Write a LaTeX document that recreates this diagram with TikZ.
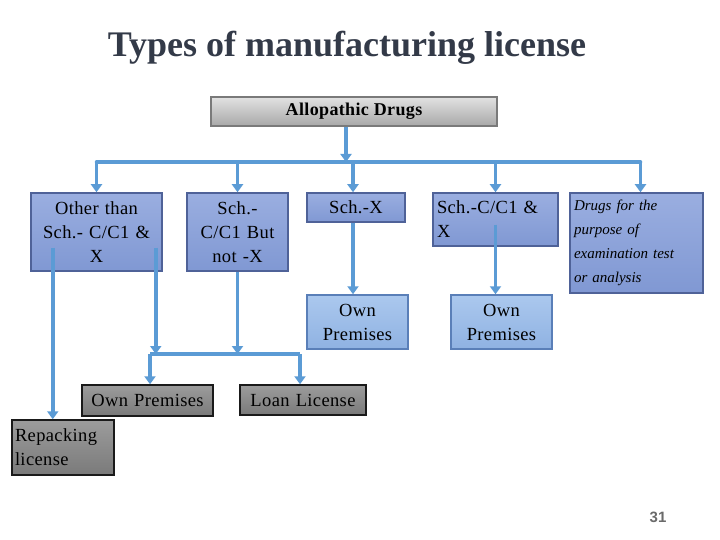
\documentclass[tikz,border=0pt]{standalone}
\usepackage{fontspec}
\setmainfont{Liberation Serif}
\setsansfont{Liberation Sans}
\newfontfamily\boxfont{Liberation Serif}[LetterSpace=2]
\usetikzlibrary{arrows.meta,calc}
\definecolor{arrowblue}{HTML}{5B9BD5}
\definecolor{titlecol}{HTML}{333A48}
\definecolor{bluetop}{HTML}{9AAEE0}
\definecolor{bluebot}{HTML}{8098D3}
\definecolor{blueedge}{HTML}{4F6298}
\definecolor{lighttop}{HTML}{ABC8EE}
\definecolor{lightbot}{HTML}{8FB2E2}
\definecolor{lightedge}{HTML}{5A7FB8}
\definecolor{graytop}{HTML}{9C9C9C}
\definecolor{graybot}{HTML}{7A7A7A}
\definecolor{grayedge}{HTML}{1A1A1A}
\definecolor{toptop}{HTML}{E2E2E2}
\definecolor{topbot}{HTML}{A8A8A8}
\definecolor{topedge}{HTML}{7A7A7A}
\definecolor{pagecol}{HTML}{6A6A6A}
\tikzset{
  boxbase/.style={rectangle, line width=1.5pt, inner sep=2pt, font=\boxfont\fontsize{18.5}{24}\selectfont},
  bluebox/.style={boxbase, top color=bluetop, bottom color=bluebot, draw=blueedge},
  lightbox/.style={boxbase, top color=lighttop, bottom color=lightbot, draw=lightedge},
  graybox/.style={boxbase, top color=graytop, bottom color=graybot, draw=grayedge},
  topbox/.style={boxbase, top color=toptop, bottom color=topbot, draw=topedge},
  conn/.style={draw=arrowblue, line width=3.5pt},
  arr/.style={conn, -{Triangle[width=11pt,length=8pt]}},
}
\begin{document}
\begin{tikzpicture}[x=1pt,y=-1pt]
\useasboundingbox[fill=white] (0,0) rectangle (720,540);

\node[anchor=base, text=titlecol, font=\fontsize{36}{40}\bfseries\selectfont] (title) at (347,57) {Types of manufacturing license};

\node[topbox, minimum width=286pt, minimum height=29pt, font=\boxfont\fontsize{18}{20}\bfseries\selectfont] (alo) at (354,111.5) {Allopathic Drugs};

\node[bluebox, minimum width=131pt, minimum height=78pt, text width=125pt, align=center] (b1) at (96.5,232) {Other than\\Sch.- C/C1 \&\\X};
\node[bluebox, minimum width=101pt, minimum height=78pt, text width=95pt, align=center] (b2) at (237.5,232) {Sch.-\\C/C1 But\\not -X};
\node[bluebox, minimum width=98pt, minimum height=29pt, text width=92pt, align=center] (b3) at (356,207.5) {Sch.-X};
\node[bluebox, minimum width=125pt, minimum height=53pt, text width=117pt, align=left] (b4) at (495.5,219.5) {Sch.-C/C1 \&\\X};
\node[bluebox, minimum width=133pt, minimum height=100pt, text width=125pt, align=left, font=\itshape\fontsize{15}{24}\selectfont] (b5) at (636.5,243) {Drugs for the\\purpose of\\examination test\\or analysis};

\node[lightbox, minimum width=101pt, minimum height=54pt, text width=95pt, align=center] (op1) at (357.5,322) {Own\\Premises};
\node[lightbox, minimum width=101pt, minimum height=54pt, text width=95pt, align=center] (op2) at (501.5,322) {Own\\Premises};

\node[graybox, minimum width=131pt, minimum height=31pt, text width=125pt, align=center] (op3) at (147.5,400.5) {Own Premises};
\node[graybox, minimum width=126pt, minimum height=30pt, text width=120pt, align=center] (loan) at (303,400) {Loan License};
\node[graybox, minimum width=102pt, minimum height=55pt, text width=96pt, align=left] (rep) at (63,447.5) {Repacking\\license};

\node[text=pagecol, font=\sffamily\bfseries\fontsize{15}{17}\selectfont] (pg) at (658,517) {31};

% top distribution
\coordinate (hub) at (346,162);
\coordinate (h5) at ([xshift=4pt]hub -| b5.north);
\coordinate (h3) at ([xshift=-3pt]hub -| b3.north);
\draw[arr] (alo.south -| hub) -- (hub);
\draw[conn, line cap=round] (hub -| b1.north) -- (h5);
\draw[arr] (hub -| b1.north) -- (b1.north);
\draw[arr] (hub -| b2.north) -- (b2.north);
\draw[arr] (h3) -- (h3 |- b3.north);
\draw[arr] (hub -| b4.north) -- (b4.north);
\draw[arr] (h5) -- (h5 |- b5.north);

% second level
\draw[arr] (h3 |- b3.south) -- (h3 |- op1.north);
\draw[arr] ([yshift=22pt]b4.south) -- (b4.south |- op2.north);

% lower junction
\coordinate (j) at (150,354);
\coordinate (k) at (300,354);
\coordinate (b1r) at ([shift={(-7,-24)}]b1.south east);
\coordinate (b1l) at ([shift={(22.5,-24)}]b1.south west);
\draw[arr] (b1r) -- (b1r |- j);
\draw[arr] (b2.south) -- (b2.south |- j);
\draw[conn] (j) -- (k);
\draw[arr] (j) -- (j |- op3.north);
\draw[arr] (k) -- (k |- loan.north);
\draw[arr] (b1l) -- (b1l |- rep.north);
\end{tikzpicture}
\end{document}
